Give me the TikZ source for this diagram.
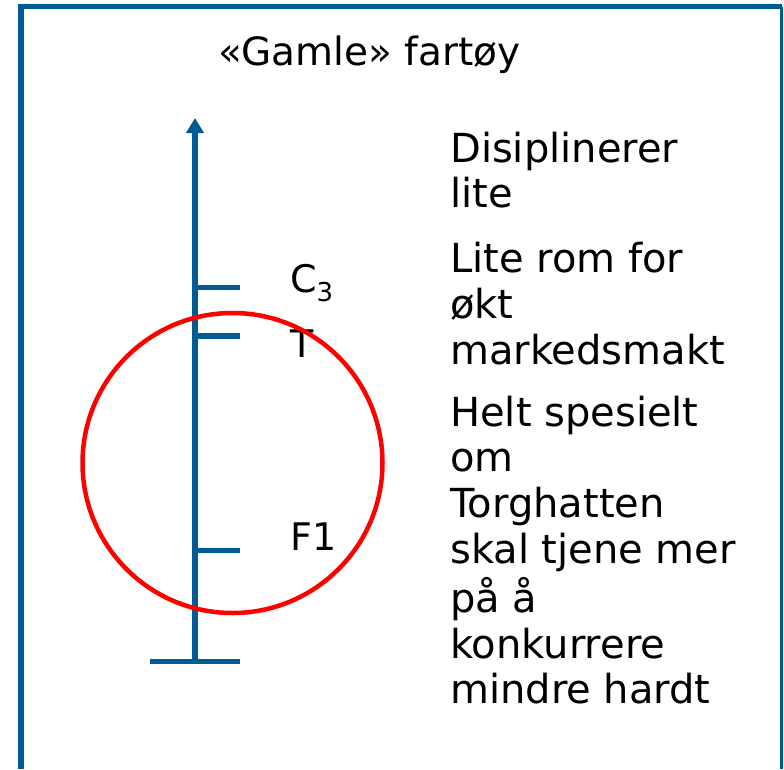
\documentclass[tikz,border=0pt]{standalone}
\usepackage{fontspec}
\setmainfont{DejaVu Sans}
\usetikzlibrary{arrows.meta}
\definecolor{axisblue}{RGB}{0,90,148}
\definecolor{ringred}{RGB}{255,0,0}
\newcommand{\lines}[1]{\begin{tabular}[t]{@{}l@{}}#1\end{tabular}}
\tikzset{
  frameline/.style={draw=axisblue,line width=5.5pt},
  axisline/.style={draw=axisblue,line width=5.5pt},
  tickmark/.style={draw=axisblue,line width=5.5pt},
  ring/.style={draw=ringred,line width=4.5pt},
  bigtext/.style={inner sep=0pt,anchor=base west,font=\fontsize{40}{45.8}\selectfont},
  ticklabel/.style={inner sep=0pt,anchor=base west,font=\fontsize{38}{44}\selectfont}
}
\begin{document}
\begin{tikzpicture}[x=1pt,y=-1pt]
  \useasboundingbox (0,0) rectangle (784,769);
  % frame, open at the bottom
  \draw[frameline] (21,769) -- (21,6.5) -- (781.5,6.5);
  \draw[draw=axisblue,line width=3pt] (781.5,6.5) -- (781.5,769);
  % title
  \node[bigtext,font=\fontsize{39}{45}\selectfont] (title) at (218,65) {«Gamle» fartøy};
  % vertical axis with base bar
  \coordinate (axbot) at (195,661.5);
  \coordinate (axtop) at (195,118);
  \coordinate (barL) at (150,661.5);
  \coordinate (barR) at (240,661.5);
  \draw[axisline,-{Triangle[width=17pt,length=15pt]}] (axbot) -- (axtop);
  \draw[axisline] (barL) -- (barR);
  % ticks
  \coordinate (c3a) at (195,287.5);  \coordinate (c3b) at (240,287.5);
  \coordinate (ta)  at (195,336);    \coordinate (tb)  at (240,336);
  \coordinate (f1a) at (195,550.5);  \coordinate (f1b) at (240,550.5);
  \draw[tickmark] (c3a) -- (c3b);
  \draw[tickmark] (ta) -- (tb);
  \draw[tickmark] (f1a) -- (f1b);
  % tick labels
  \node[ticklabel] (lc3) at (290,292) {C\raisebox{-9pt}{\fontsize{26}{26}\selectfont 3}};
  \node[ticklabel] (lt)  at (290,357.5) {T};
  \node[ticklabel] (lf1) at (290,550) {F1};
  % red ring
  \draw[ring] (232.5,463) circle[radius=150];
  % comments on the right
  \node[bigtext] (p1) at (450,162) {\lines{Disiplinerer\\lite}};
  \node[bigtext] (p2) at (450,272.7) {\lines{Lite rom for\\økt\\markedsmakt}};
  \node[bigtext] (p3) at (450,426) {\lines{Helt spesielt\\om\\Torghatten\\skal tjene mer\\på å\\konkurrere\\mindre hardt}};
\end{tikzpicture}
\end{document}
